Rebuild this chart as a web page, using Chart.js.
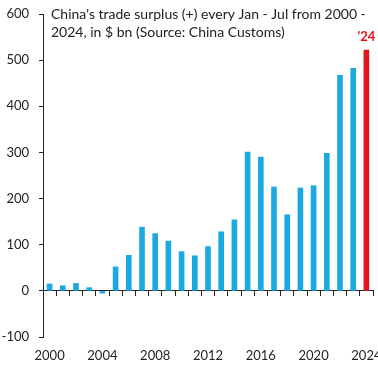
<!DOCTYPE html>
<html>
<head>
<meta charset="utf-8">
<script src="https://cdn.jsdelivr.net/npm/chart.js@4/dist/chart.umd.min.js"></script>
<style>
  html, body { margin: 0; padding: 0; background: #fff; }
  #wrap { width: 378px; height: 370px; }
</style>
</head>
<body>
<div id="wrap"><canvas id="surplusChart" width="378" height="370"></canvas></div>
<script>
// Jan - Jul trade surplus, $ bn
const years = ['2000', '2001', '2002', '2003', '2004', '2005', '2006', '2007', '2008', '2009',
  '2010', '2011', '2012', '2013', '2014', '2015', '2016', '2017', '2018', '2019',
  '2020', '2021', '2022', '2023', '2024'];
const surplus = [15, 11, 16, 7, -5, 52, 77, 138, 124, 108,
  85, 76, 96, 128, 154, 301, 290, 225, 165, 223,
  228, 298, 467, 482, 522];
const titleLines = ["China's trade surplus (+) every Jan - Jul from 2000 -", "2024, in $ bn (Source: China Customs)"];
const lastLabel = "'24";

const blue = '#1CA9E1';
const red = '#E3141B';
const barColors = years.map((y, i) => i === years.length - 1 ? red : blue);

const FONT = 'Lato, "Open Sans", sans-serif';
const ink = '#222';

const overlay = {
  id: 'overlay',
  afterDraw(chart) {
    const c = chart.ctx;
    c.save();
    c.fillStyle = ink;
    c.font = '14px ' + FONT;
    c.textBaseline = 'middle';
    c.textAlign = 'left';
    c.fillText(titleLines[0], 51, 14);
    c.fillText(titleLines[1], 51, 32);
    // label on the latest bar
    const bar = chart.getDatasetMeta(0).data[years.length - 1];
    c.fillStyle = red;
    c.font = 'bold 13px ' + FONT;
    c.textAlign = 'center';
    c.fillText(lastLabel, bar.x, bar.y - 13);
    c.restore();
  }
};

new Chart(document.getElementById('surplusChart'), {
  type: 'bar',
  data: {
    labels: years,
    datasets: [{
      data: surplus,
      backgroundColor: barColors,
      barThickness: 5
    }]
  },
  options: {
    responsive: false,
    animation: false,
    layout: { padding: { top: 14, right: 5, left: 0, bottom: 0 } },
    plugins: { legend: { display: false }, tooltip: { enabled: false } },
    scales: {
      x: {
        offset: true,
        grid: { display: false, drawTicks: false },
        border: { display: false },
        ticks: {
          autoSkip: false,
          maxRotation: 0,
          color: ink,
          font: { family: FONT, size: 13 },
          padding: 11,
          callback: (v, i) => i % 4 === 0 ? years[i] : ''
        },
        afterFit: (s) => { s.paddingLeft = 0; s.paddingRight = 0; s.height = 33; }
      },
      xAxis0: {
        type: 'category',
        labels: years,
        position: { y: 0 },
        offset: true,
        grid: { offset: true, drawOnChartArea: false, tickLength: 5, color: ink },
        border: { display: true, color: ink },
        ticks: { display: false }
      },
      y: {
        min: -100,
        max: 600,
        grid: { drawOnChartArea: false, tickLength: 4, color: ink },
        border: { display: true, color: ink },
        ticks: {
          stepSize: 100,
          color: ink,
          font: { family: FONT, size: 13 },
          padding: 10
        },
        afterFit: (s) => { s.width = 43; s.paddingTop = 0; s.paddingBottom = 0; }
      }
    }
  },
  plugins: [overlay]
});
</script>
</body>
</html>
